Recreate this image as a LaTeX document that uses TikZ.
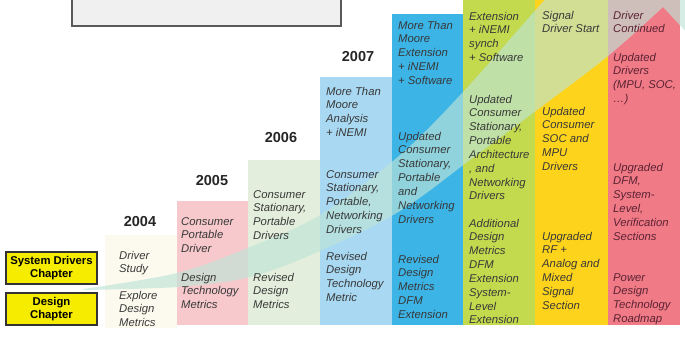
\documentclass[tikz,border=0pt]{standalone}
\usepackage{fontspec}
\setmainfont{Liberation Sans}
\definecolor{c04}{HTML}{FCFAEE}
\definecolor{c05}{HTML}{F7C9CC}
\definecolor{c06}{HTML}{E3EFDC}
\definecolor{c07}{HTML}{A9D9F2}
\definecolor{c08}{HTML}{3CB4E6}
\definecolor{c09}{HTML}{C3D94E}
\definecolor{c10}{HTML}{FDD31B}
\definecolor{c11}{HTML}{F07A86}
\definecolor{bandc}{RGB}{190,228,215}
\definecolor{txtc}{HTML}{383838}
\definecolor{txtr}{HTML}{5B2333}
\definecolor{chapy}{HTML}{F5EC00}
\newcommand\coltext[4]{\node[coltxt] (#3) at (#1,#2) {\parbox[t]{100pt}{\raggedright\fontsize{11.3}{13.85}\selectfont\itshape #4}};}
\begin{document}
\begin{tikzpicture}[x=1pt,y=-1pt,
  colbox/.style={draw=none,inner sep=0pt,outer sep=0pt,anchor=north west},
  coltxt/.style={inner sep=0pt,anchor=base west,text=txtc},
  yearlbl/.style={inner sep=0pt,font=\fontsize{14.5}{16}\selectfont\bfseries,text=black!85},
  chapbox/.style={draw=black!80,line width=1.3pt,fill=chapy,inner sep=0pt,minimum width=91pt,minimum height=32pt,align=center,font=\fontsize{11.3}{13}\selectfont\bfseries},
  band/.style={fill=bandc,fill opacity=0.65}]
\useasboundingbox (0,0) rectangle (685,338);
\clip (0,0) rectangle (685,338);
% top box
\node[colbox,draw=black!65,fill=black!6,line width=1.3pt,minimum width=269pt,minimum height=32pt] (topbox) at (72,-6) {};
% columns
\node[colbox,fill=c04,minimum width=72pt,minimum height=93pt] (col04) at (105,235) {};
\node[colbox,fill=c05,minimum width=71pt,minimum height=124pt] (col05) at (177,201) {};
\node[colbox,fill=c06,minimum width=72pt,minimum height=165pt] (col06) at (248,160) {};
\node[colbox,fill=c07,minimum width=72pt,minimum height=248pt] (col07) at (320,77) {};
\node[colbox,fill=c08,minimum width=71pt,minimum height=311pt] (col08) at (392,14) {};
\node[colbox,fill=c09,minimum width=72pt,minimum height=330pt] (col09) at (463,-5) {};
\node[colbox,fill=c10,minimum width=73pt,minimum height=330pt] (col10) at (535,-5) {};
\node[colbox,fill=c11,minimum width=72pt,minimum height=330pt] (col11) at (608,-5) {};
% band arrow
\fill[band] plot[smooth,tension=0.55] coordinates {(83,289) (177,273) (250,247) (320,215) (400,155) (463,92) (540,5) (600,-62)}
  -- (562,-103) -- (713,-101) -- (701,48) -- (663,7)
  -- plot[smooth,tension=0.55] coordinates {(663,7) (608,56) (537,110) (470,160) (400,211) (320,251) (250,277) (177,287) (83,290)} -- cycle;
% year labels
\node[yearlbl] (y04) at (140,222) {2004};
\node[yearlbl] (y05) at (212,181) {2005};
\node[yearlbl] (y06) at (281,138) {2006};
\node[yearlbl] (y07) at (358,57) {2007};
% chapter boxes
\node[chapbox] (sysdrv) at (51.5,268) {System Drivers\\Chapter};
\node[chapbox] (design) at (51.5,309) {Design\\Chapter};
% column texts
\coltext{119}{259}{t04a}{Driver\\Study}
\coltext{119}{299}{t04b}{Explore\\Design\\Metrics}
\coltext{181}{225}{t05a}{Consumer\\Portable\\Driver}
\coltext{181}{281}{t05b}{Design\\Technology\\Metrics}
\coltext{253}{198}{t06a}{Consumer\\Stationary,\\Portable\\Drivers}
\coltext{253}{281}{t06b}{Revised\\Design\\Metrics}
\coltext{326}{95}{t07a}{More Than\\Moore\\Analysis\\+ iNEMI}
\coltext{326}{178}{t07b}{Consumer\\Stationary,\\Portable,\\Networking\\Drivers}
\coltext{326}{260}{t07c}{Revised\\Design\\Technology\\Metric}
\coltext{398}{29}{t08a}{More Than\\Moore\\Extension\\+ iNEMI\\+ Software}
\coltext{398}{140}{t08b}{Updated\\Consumer\\Stationary,\\Portable\\and\\Networking\\Drivers}
\coltext{398}{263}{t08c}{Revised\\Design\\Metrics\\DFM\\Extension}
\coltext{469}{20}{t09a}{Extension\\+ iNEMI\\synch\\+ Software}
\coltext{469}{103}{t09b}{Updated\\Consumer\\Stationary,\\Portable\\Architecture\\, and\\Networking\\Drivers}
\coltext{469}{227}{t09c}{Additional\\Design\\Metrics\\DFM\\Extension\\System-\\Level\\Extension}
\coltext{542}{19}{t10a}{Signal\\Driver Start}
\coltext{542}{115}{t10b}{Updated\\Consumer\\SOC and\\MPU\\Drivers}
\coltext{542}{240}{t10c}{Upgraded\\RF +\\Analog and\\Mixed\\Signal\\Section}
\begin{scope}[coltxt/.append style={text=txtr}]
\coltext{613}{19}{t11a}{Driver\\Continued}
\coltext{613}{61}{t11b}{Updated\\Drivers\\(MPU, SOC,\\…)}
\coltext{613}{171}{t11c}{Upgraded\\DFM,\\System-\\Level,\\Verification\\Sections}
\coltext{613}{281}{t11d}{Power\\Design\\Technology\\Roadmap}
\end{scope}
\end{tikzpicture}
\end{document}
